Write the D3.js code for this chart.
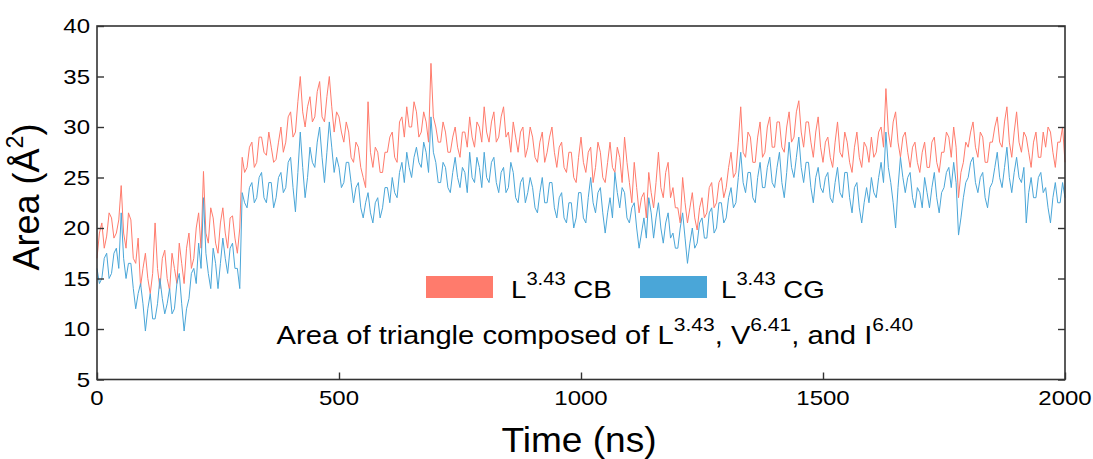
<!DOCTYPE html>
<html><head><meta charset="utf-8">
<script src="https://cdn.jsdelivr.net/npm/d3@7"></script>
<style>body{margin:0;background:#fff}svg{display:block;font-family:"Liberation Sans",Arial,sans-serif}</style>
</head><body><svg id="c" width="1093" height="459"></svg>
<script>
const timeStep = 5; // ns between samples
const cbValues = [
17.0,19.5,20.5,18.0,19.2,21.5,21.0,19.0,19.5,20.8,
24.2,19.5,18.0,21.5,20.8,17.0,16.5,19.0,14.2,16.0,
17.5,15.0,13.5,15.5,20.5,16.0,14.0,17.0,17.8,15.0,
13.8,17.5,16.0,14.5,18.5,16.5,14.5,18.0,19.5,16.0,
17.0,20.0,21.5,18.0,25.6,19.5,18.5,22.0,21.0,18.5,
17.5,20.5,22.0,19.5,18.0,21.0,21.2,19.0,17.5,20.0,
27.0,25.5,26.0,28.0,28.5,26.0,26.5,29.0,29.0,27.5,
27.2,29.5,28.0,26.5,26.8,28.5,30.0,27.5,28.5,31.0,
31.5,29.0,29.5,32.5,35.0,31.5,30.0,32.0,33.0,30.5,
31.0,33.5,34.5,31.0,30.5,33.0,35.0,32.0,29.5,31.5,
31.0,29.5,28.5,30.5,29.5,27.0,26.5,28.5,28.0,26.0,
25.0,24.0,32.5,27.5,26.0,28.0,27.5,25.5,25.5,27.5,
27.5,29.0,29.5,27.0,26.5,30.5,31.0,29.0,32.0,30.0,
30.0,32.5,31.5,29.0,29.5,31.5,30.5,28.5,36.3,31.0,
30.0,28.5,28.5,30.5,29.5,27.5,27.5,29.0,30.0,28.0,
27.0,29.5,29.5,28.0,31.0,29.0,28.0,30.5,30.0,28.5,
32.0,29.5,28.5,30.5,31.5,28.5,29.0,31.0,32.0,29.0,
29.5,27.5,30.5,29.0,27.5,29.5,30.0,27.0,28.0,30.0,
29.0,27.0,26.5,28.5,29.5,26.5,27.5,29.0,30.0,27.5,
26.0,28.0,28.5,26.0,25.5,27.5,27.5,25.0,24.5,27.0,
29.0,26.5,25.5,27.5,28.0,24.5,26.0,28.5,27.5,25.0,
24.5,26.5,28.5,26.0,25.5,28.0,27.0,24.5,29.0,26.5,
24.5,22.5,26.5,24.0,21.5,23.0,23.5,21.0,25.5,23.5,
22.0,24.5,27.5,24.0,23.0,25.5,26.5,23.0,24.0,22.0,
22.0,20.5,25.0,22.5,20.5,22.0,23.5,21.0,19.8,22.0,
23.0,21.0,21.5,24.0,24.5,22.0,22.5,24.5,25.0,23.0,
24.0,26.0,27.5,25.0,25.5,28.5,32.0,27.5,27.0,29.5,
29.0,26.5,26.5,29.0,30.5,27.0,27.5,30.0,31.0,28.0,
28.0,30.5,30.5,28.0,27.5,30.0,31.5,28.5,29.0,31.5,
32.6,29.5,28.0,30.5,30.5,28.5,27.0,29.5,31.0,28.0,
26.5,28.5,29.0,27.0,26.0,28.5,30.5,27.5,27.0,29.5,
28.5,26.5,25.5,28.0,29.5,27.0,26.0,28.5,28.0,26.5,
29.0,27.0,27.5,29.5,30.0,28.0,33.8,29.5,28.0,30.5,
31.5,28.5,27.0,29.0,29.5,27.5,26.0,28.0,28.5,26.5,
25.5,27.5,28.5,26.0,26.0,28.5,29.0,26.5,25.5,27.5,
27.5,29.5,29.0,27.0,30.0,28.0,23.0,25.5,26.5,28.5,
28.0,29.5,30.5,28.0,27.0,29.5,29.0,26.5,26.5,28.5,
28.5,30.0,31.0,28.5,28.0,30.5,32.0,28.5,27.0,29.5,
31.5,28.5,27.5,29.5,29.0,27.5,26.0,28.5,29.5,27.0,
27.0,29.5,28.0,30.0,29.5,27.5,26.0,28.5,28.5,30.0,
26.5];
const cgValues = [
16.0,14.5,15.0,17.0,17.5,15.0,15.5,17.5,18.0,16.0,
21.5,17.0,15.0,16.5,16.5,14.0,12.0,13.5,14.5,12.5,
9.8,12.0,13.5,11.0,11.0,12.5,15.0,13.0,11.5,12.5,
14.0,11.5,12.0,14.5,15.5,12.5,9.8,12.0,13.0,15.5,
16.0,14.5,18.5,16.0,23.0,17.5,15.5,14.0,18.0,16.5,
14.0,16.5,19.0,17.0,15.5,18.0,18.5,16.0,16.0,14.0,
23.5,22.5,22.0,24.0,24.5,22.5,23.0,25.0,25.5,23.0,
22.5,24.5,24.5,22.0,23.0,25.0,25.5,23.5,24.0,26.5,
27.0,24.0,21.6,25.5,29.5,26.0,23.0,25.0,28.0,26.5,
26.0,28.5,30.0,27.0,24.5,27.5,30.5,28.0,25.5,27.0,
26.0,24.0,24.5,26.5,26.5,24.5,22.5,24.0,24.5,22.0,
21.0,22.5,23.5,21.5,20.5,22.5,23.0,21.0,22.0,24.0,
24.0,22.5,25.0,23.5,23.0,25.5,26.5,24.5,27.5,26.0,
25.0,27.0,28.0,26.5,26.0,28.5,27.5,25.5,31.0,27.5,
26.5,24.5,24.5,26.5,26.0,24.0,23.5,25.5,27.0,25.0,
24.0,26.0,25.5,23.5,27.5,25.0,24.5,27.0,26.0,24.0,
27.5,25.0,24.5,26.5,27.0,24.5,23.5,25.5,26.0,23.5,
24.0,26.5,25.5,23.0,22.5,24.5,25.0,22.5,23.5,25.0,
24.0,22.0,21.5,23.5,25.0,22.5,22.5,24.5,24.5,22.0,
21.0,23.0,23.5,21.0,20.5,22.5,22.5,20.0,21.0,23.5,
23.5,21.0,20.5,23.0,25.0,22.5,21.5,23.5,24.0,21.5,
19.5,21.5,23.0,21.0,25.5,23.5,22.0,24.0,23.5,21.0,
20.5,22.0,22.5,20.0,18.0,19.5,21.0,19.0,23.0,21.5,
19.0,21.0,22.5,20.0,18.5,20.5,21.5,19.0,19.5,18.0,
18.0,20.0,21.5,19.0,16.5,18.5,20.0,18.0,18.5,20.5,
21.0,19.0,19.0,21.5,22.0,19.5,20.0,22.5,22.5,20.5,
21.0,23.0,24.0,22.0,22.5,25.0,27.5,24.5,23.5,25.5,
25.5,23.0,22.5,25.0,26.5,24.0,24.0,26.0,27.0,24.5,
24.0,26.0,27.5,24.5,23.0,25.5,28.5,26.0,25.0,27.0,
29.0,26.0,24.5,26.5,26.5,24.0,22.5,25.0,26.0,24.0,
23.5,25.0,25.5,23.0,22.5,24.5,26.0,23.5,23.0,25.5,
25.5,23.0,21.5,24.0,24.5,22.0,20.5,22.5,24.0,22.5,
25.0,23.5,23.0,25.0,26.5,24.5,29.5,26.0,24.5,22.5,
20.0,24.0,27.0,25.0,23.5,25.0,25.5,23.0,22.0,24.0,
23.5,22.0,25.0,23.5,22.0,24.0,25.5,23.0,21.5,23.5,
24.0,25.5,26.0,24.0,26.5,24.5,19.3,21.0,23.0,24.5,
25.0,26.5,27.0,24.5,23.5,25.0,25.5,23.0,22.0,24.0,
24.5,26.0,27.5,25.0,24.0,26.0,28.0,25.0,23.5,25.5,
27.0,25.0,24.5,26.0,20.5,23.5,25.0,23.0,23.0,25.0,
25.5,23.5,24.0,22.0,20.5,23.0,24.5,22.5,22.5,24.5,
23.0];
const xTicks = [0, 500, 1000, 1500, 2000];
const yTicks = [5, 10, 15, 20, 25, 30, 35, 40];
const seriesNames = ["CB", "CG"];
const seriesColors = ["#ff7b6c", "#4aa6d8"];

const svg = d3.select("#c");
const L = 97, R = 1065, T = 26, B = 379.5;
const x = d3.scaleLinear().domain([0, 2000]).range([L, R]);
const y = d3.scaleLinear().domain([5, 40]).range([B, T]);

function stretchedText(g, px, py, anchor, size, sx) {
  const gg = g.append("g").attr("transform", `translate(${px},${py}) scale(${sx},1)`);
  return gg.append("text").attr("text-anchor", anchor).attr("font-size", size).attr("fill", "#000");
}
// parts: array of [string, isSuperscript]
function richText(t, size, parts, supScale, raise) {
  const r = raise * size;
  let up = false;
  parts.forEach(([s, sup]) => {
    const ts = t.append("tspan").text(s);
    if (sup) { ts.attr("font-size", supScale * size); if (!up) { ts.attr("dy", -r); up = true; } }
    else if (up) { ts.attr("dy", r); up = false; }
  });
}

// lines
const line = d3.line().x((d, i) => x(i * timeStep)).y(d => y(d));
[cbValues, cgValues].forEach((vals, k) => {
  svg.append("path").datum(vals).attr("d", line)
    .attr("fill", "none").attr("stroke", seriesColors[k]).attr("stroke-width", 1)
    .attr("stroke-linejoin", "round");
});

// frame
svg.append("rect").attr("x", L).attr("y", T).attr("width", R - L).attr("height", B - T)
  .attr("fill", "none").attr("stroke", "#333").attr("stroke-width", 1.6);

// axes ticks (inward)
const yl = svg.append("g").attr("transform", `translate(${L},0)`)
  .call(d3.axisRight(y).tickValues(yTicks).tickSize(7).tickFormat(""));
const yr = svg.append("g").attr("transform", `translate(${R},0)`)
  .call(d3.axisLeft(y).tickValues(yTicks).tickSize(7).tickFormat(""));
const xb = svg.append("g").attr("transform", `translate(0,${B})`)
  .call(d3.axisTop(x).tickValues(xTicks).tickSize(7).tickFormat(""));
[yl, yr, xb].forEach(a => {
  a.select(".domain").remove();
  a.selectAll("line").attr("stroke", "#333").attr("stroke-width", 1.4);
});

// tick labels
yTicks.forEach(v => { stretchedText(svg, 90, y(v) + 7, "end", 20, 1.2).text(v); });
xTicks.forEach(v => { stretchedText(svg, x(v), 405, "middle", 20, 1.2).text(v); });

// axis titles
stretchedText(svg, 579, 451.5, "middle", 35, 1.06).text("Time (ns)");
{
  const g = svg.append("g").attr("transform", `translate(39,197) rotate(-90)`);
  const t = g.append("text").attr("text-anchor", "middle").attr("font-size", 36).attr("fill", "#000");
  richText(t, 36, [["Area (Å", false], ["2", true], [")", false]], 0.65, 0.45);
}

// legend
const legX = [426, 640];
const legTextX = [511, 721];
seriesNames.forEach((n, k) => {
  svg.append("rect").attr("x", legX[k]).attr("y", 276).attr("width", 67).attr("height", 22)
    .attr("fill", seriesColors[k]);
  const t = stretchedText(svg, legTextX[k], 297.5, "start", 24.7, 1.12);
  richText(t, 24.7, [["L", false], ["3.43", true], [" " + n, false]], 0.73, 0.52);
});

// annotation
{
  const t = stretchedText(svg, 276.5, 344, "start", 25.6, 1.14);
  richText(t, 25.6, [["Area of triangle composed of L", false], ["3.43", true], [", V", false],
    ["6.41", true], [", and I", false], ["6.40", true]], 0.72, 0.52);
}
</script></body></html>
